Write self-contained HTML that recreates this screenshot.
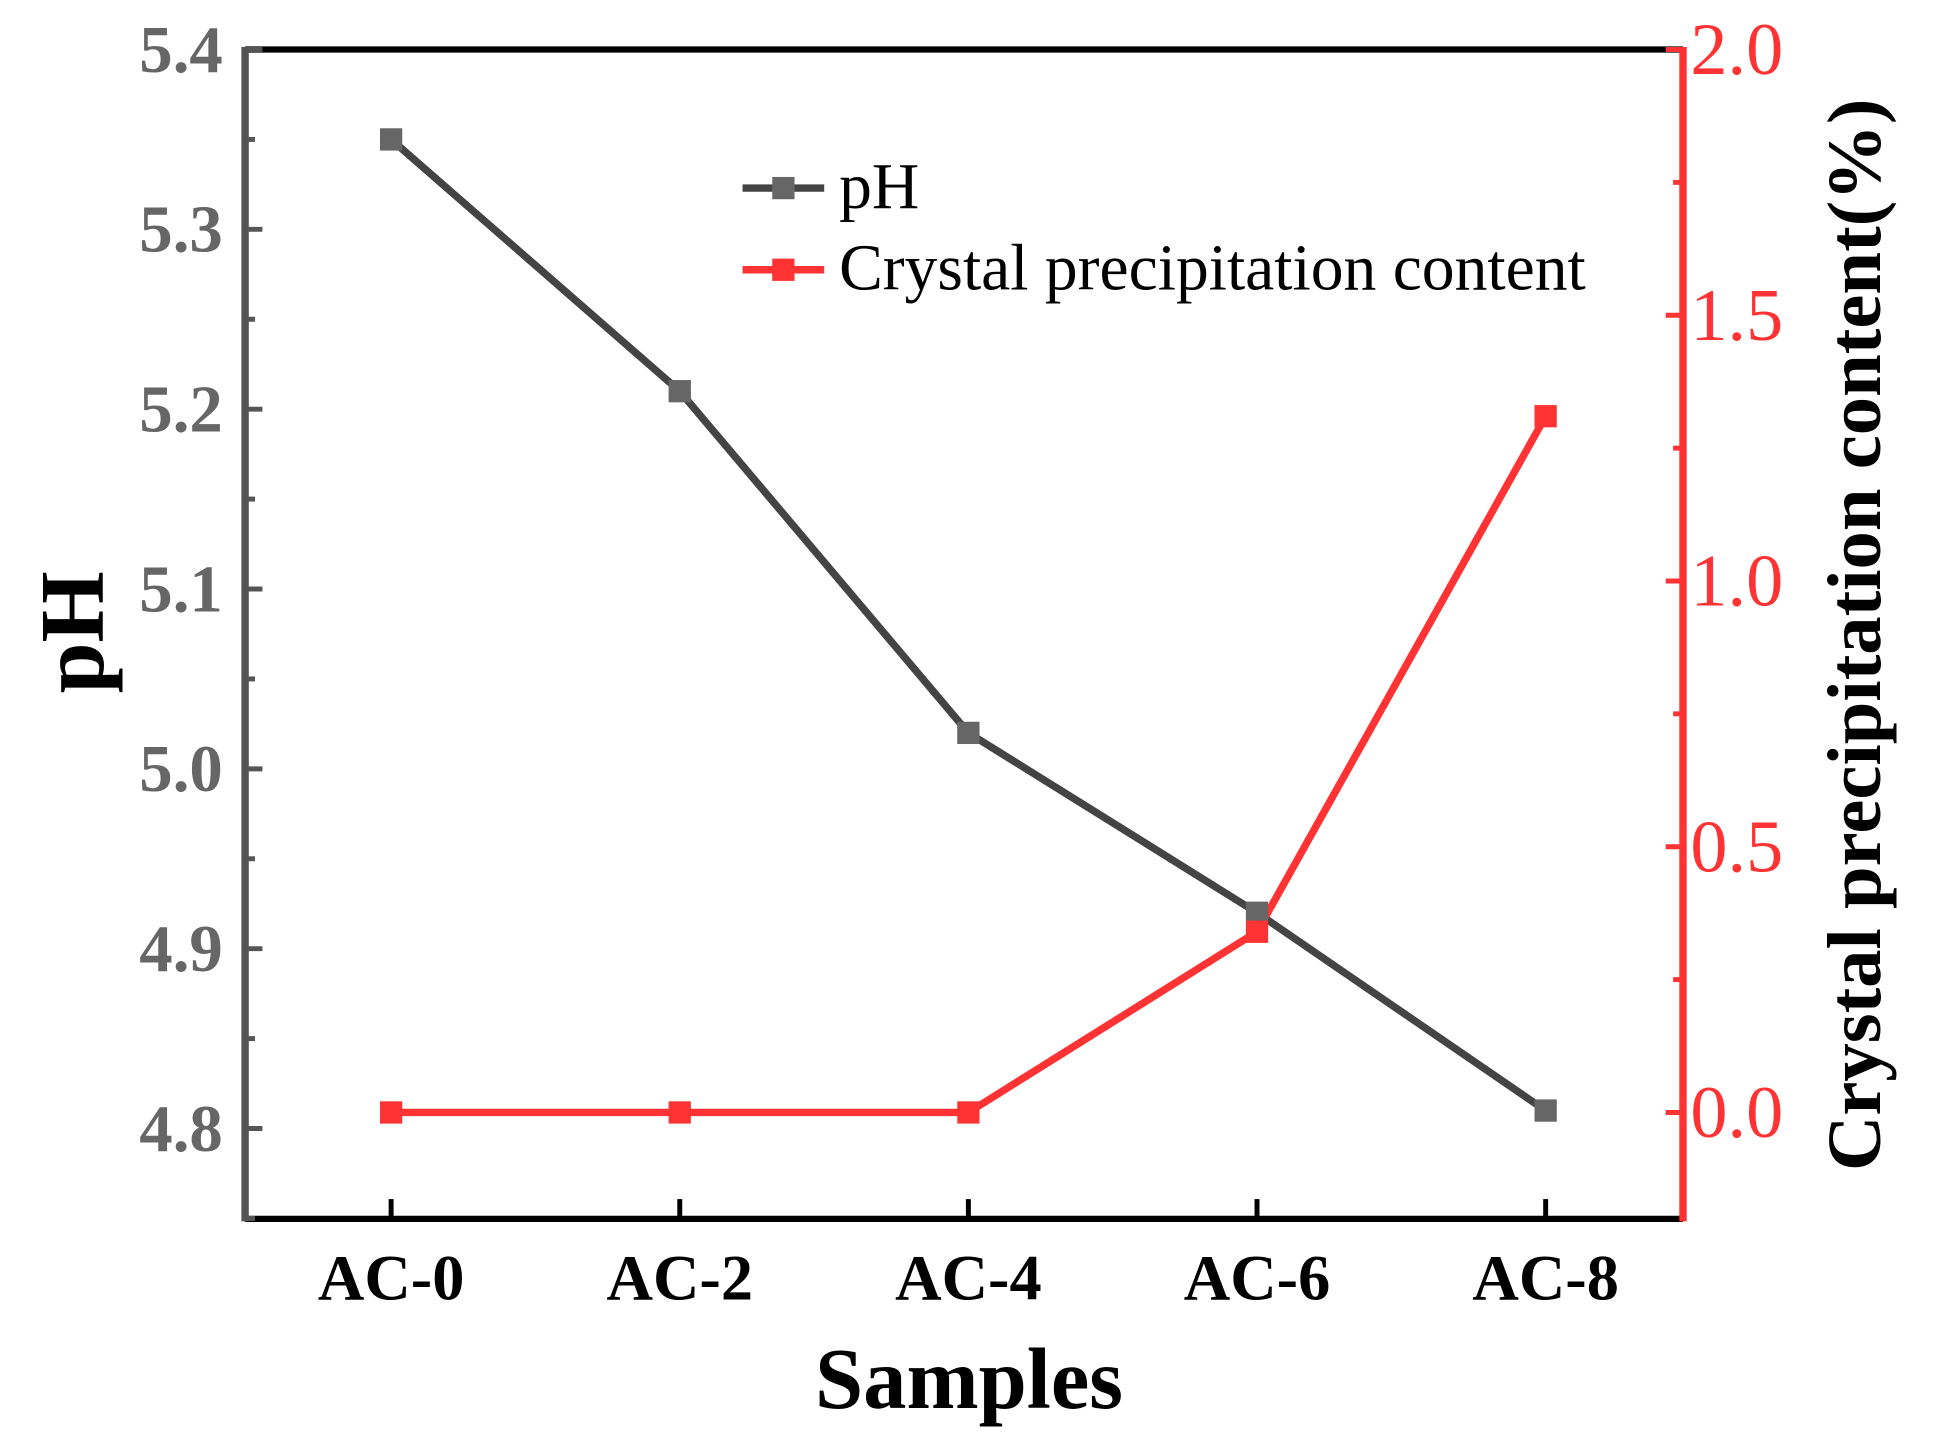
<!DOCTYPE html>
<html><head><meta charset="utf-8"><style>html,body{margin:0;padding:0;background:#fff}svg{display:block}</style></head>
<body>
<svg width="1938" height="1454" viewBox="0 0 1566 1175" xmlns="http://www.w3.org/2000/svg" font-family="'Liberation Serif', serif">
<g id="g"></g>
</svg>
<script>
const categories = ["AC-0","AC-2","AC-4","AC-6","AC-8"];
const phValues = [5.35, 5.21, 5.02, 4.92, 4.81];
const crystalValues = [0, 0, 0, 0.34, 1.31];
const leftTicks = ["4.8","4.9","5.0","5.1","5.2","5.3","5.4"];
const rightTicks = ["0.0","0.5","1.0","1.5","2.0"];

const L=198,R=1360,T=40,B=985;
const xs=i=>316+i*233.25;
const yL=v=>40+(5.4-v)/0.1*145.33;
const yR=v=>899-v*429.5;
const g=document.getElementById('g');
const NS='http://www.w3.org/2000/svg';
function mk(tag,attrs,txt){const e=document.createElementNS(NS,tag);for(const k in attrs)e.setAttribute(k,attrs[k]);if(txt!==undefined)e.textContent=txt;g.appendChild(e);return e;}

let e;
e=mk('line',{x1:L,y1:T,x2:R,y2:T,stroke:'#000','stroke-width':5});

e=mk('line',{x1:L,y1:B,x2:R,y2:B,stroke:'#000','stroke-width':5});

e=mk('line',{x1:L,y1:T-2,x2:L,y2:B+2,stroke:'#555','stroke-width':6});

e=mk('line',{x1:R,y1:T-2,x2:R,y2:B+2,stroke:'#ff3333','stroke-width':6});


leftTicks.forEach(t=>{const v=parseFloat(t),y=yL(v);
  mk('line',{x1:L,y1:y,x2:L+14,y2:y,stroke:'#555','stroke-width':4});
  const m=yL(v-0.05); if(m<B) mk('line',{x1:L,y1:m,x2:L+8,y2:m,stroke:'#555','stroke-width':4});
  e=mk('text',{x:180,y:y+18,'text-anchor':'end','font-size':54,'font-weight':'bold',fill:'#666'},t);
  
});
rightTicks.forEach(t=>{const v=parseFloat(t),y=yR(v);
  mk('line',{x1:R-14,y1:y,x2:R,y2:y,stroke:'#ff3333','stroke-width':4});
  const m=yR(v-0.25); if(m<B) mk('line',{x1:R-8,y1:m,x2:R,y2:m,stroke:'#ff3333','stroke-width':4});
  e=mk('text',{x:1366,y:y+20,'font-size':60,fill:'#ff3333'},t);
  
});
categories.forEach((c,i)=>{const x=xs(i);
  mk('line',{x1:x,y1:B,x2:x,y2:B-16,stroke:'#000','stroke-width':4});
  e=mk('text',{x:x,y:1050,'text-anchor':'middle','font-size':52,'font-weight':'bold',fill:'#000'},c);
  
});
e=mk('polyline',{points:phValues.map((v,i)=>xs(i)+','+yL(v)).join(' '),fill:'none',stroke:'#444','stroke-width':6});

e=mk('polyline',{points:crystalValues.map((v,i)=>xs(i)+','+yR(v)).join(' '),fill:'none',stroke:'#ff3333','stroke-width':6});

phValues.forEach((v,i)=>{e=mk('rect',{x:xs(i)-9,y:yL(v)-9,width:18,height:18,fill:'#666'});
  });
crystalValues.forEach((v,i)=>{e=mk('rect',{x:xs(i)-9,y:yR(v)-9,width:18,height:18,fill:'#ff3333'});
  });

mk('line',{x1:600,y1:152,x2:666,y2:152,stroke:'#444','stroke-width':6});
mk('rect',{x:624,y:143,width:18,height:18,fill:'#666'});
e=mk('text',{x:678,y:168,'font-size':53,fill:'#000'},'pH');

mk('line',{x1:600,y1:218,x2:666,y2:218,stroke:'#ff3333','stroke-width':6});
mk('rect',{x:624,y:209,width:18,height:18,fill:'#ff3333'});
e=mk('text',{x:678,y:234,'font-size':53,fill:'#000'},'Crystal precipitation content');


e=mk('text',{x:783,y:1138,'text-anchor':'middle','font-size':70,'font-weight':'bold',fill:'#000'},'Samples');

e=mk('text',{x:0,y:0,transform:'translate(83,511) rotate(-90)','text-anchor':'middle','font-size':74,'font-weight':'bold',fill:'#000'},'pH');

e=mk('text',{x:0,y:0,transform:'translate(1519,513) rotate(-90)','text-anchor':'middle','font-size':62,'font-weight':'bold',fill:'#000'},'Crystal precipitation content(%)');

</script>
</body></html>
